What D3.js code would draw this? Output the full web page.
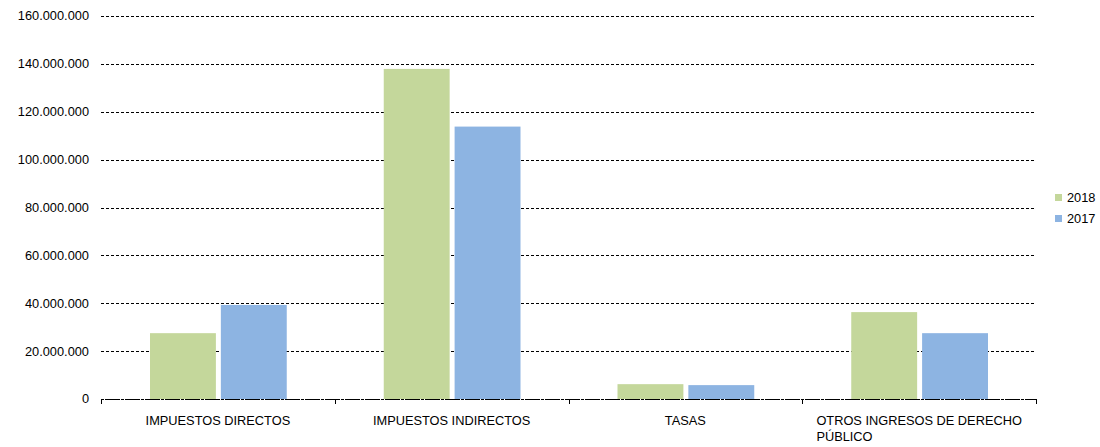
<!DOCTYPE html>
<html>
<head>
<meta charset="utf-8">
<script src="https://cdn.jsdelivr.net/npm/d3@7"></script>
<style>
  body { margin: 0; background: #fff; }
  text { font-family: "Liberation Sans", Arial, sans-serif; fill: #000; }
</style>
</head>
<body>
<svg id="chart" width="1100" height="447"></svg>
<script>
var categories = ["IMPUESTOS DIRECTOS", "IMPUESTOS INDIRECTOS", "TASAS", "OTROS INGRESOS DE DERECHO PÚBLICO"];
var series = ["2018", "2017"];
var values2018 = [27500000, 137900000, 6200000, 36300000];
var values2017 = [39300000, 113800000, 5800000, 27500000];
var yTicks = [0, 20000000, 40000000, 60000000, 80000000, 100000000, 120000000, 140000000, 160000000];
var colors = ["#c4d79b", "#8db4e2"];

var fontSize = "12.8px";

var svg = d3.select("svg#chart"),
  margin = {top: 16, right: 64, bottom: 48, left: 101},
  width = 1036 - margin.left,
  height = 399 - margin.top;

var g = svg.append("g").attr("transform", "translate(" + margin.left + "," + margin.top + ")");

var x = d3.scaleBand().domain(categories).range([0, width]).paddingInner(0).paddingOuter(0);
var x1 = d3.scaleBand().domain(series).range([49, x.bandwidth() - 48]).paddingInner(0.07);
var y = d3.scaleLinear().domain([0, 160000000]).range([height, 0]);

var fmt = function(v) { return d3.format(",")(v).replace(/,/g, "."); };

// grid
g.selectAll(".grid").data(yTicks).enter().append("line")
  .attr("x1", 0).attr("x2", width)
  .attr("y1", function(d) { return Math.round(y(d)) + 0.5; })
  .attr("y2", function(d) { return Math.round(y(d)) + 0.5; })
  .attr("stroke", "#000").attr("stroke-width", 1).attr("stroke-dasharray", "3,2");

// y labels
g.selectAll(".ylab").data(yTicks).enter().append("text")
  .attr("x", -12).attr("y", function(d) { return y(d); })
  .attr("dy", "0.35em").attr("text-anchor", "end")
  .style("font-size", fontSize).text(fmt);

// bars
var data = categories.map(function(c, i) { return {cat: c, vals: [values2018[i], values2017[i]]}; });
var grp = g.selectAll(".cat").data(data).enter().append("g")
  .attr("transform", function(d) { return "translate(" + x(d.cat) + ",0)"; });
grp.selectAll("rect").data(function(d) { return d.vals.map(function(v, j) { return {s: series[j], v: v, j: j}; }); })
  .enter().append("rect")
  .attr("x", function(d) { return x1(d.s); })
  .attr("width", x1.bandwidth())
  .attr("y", function(d) { return y(d.v); })
  .attr("height", function(d) { return height - y(d.v); })
  .attr("fill", function(d) { return colors[d.j]; });

// x axis
var ax = g.append("g").attr("transform", "translate(0," + height + ")");
ax.append("line").attr("x1", 0).attr("x2", width).attr("y1", 0.5).attr("y2", 0.5)
  .attr("stroke", "#000").attr("stroke-dasharray", "3,1");
var tickPos = d3.range(categories.length + 1).map(function(i) { return i * x.step(); });
ax.selectAll(".tk").data(tickPos).enter().append("line")
  .attr("x1", function(d) { return Math.round(d) + 0.5; })
  .attr("x2", function(d) { return Math.round(d) + 0.5; })
  .attr("y1", 0).attr("y2", 5).attr("stroke", "#000");

// category labels (wrapped, left aligned in a centred block)
var maxW = x.bandwidth() - 12;
data.forEach(function(d) {
  var t = ax.append("text").style("font-size", fontSize).attr("y", 26);
  var words = d.cat.split(" "), lines = [], line = [];
  words.forEach(function(w) {
    line.push(w);
    t.text(line.join(" "));
    if (t.node().getComputedTextLength() > maxW && line.length > 1) {
      line.pop();
      lines.push(line.join(" "));
      line = [w];
    }
  });
  lines.push(line.join(" "));
  t.text(lines[0]);
  var w0 = t.node().getComputedTextLength();
  t.text(null);
  var cx = x(d.cat) + x.bandwidth() / 2;
  if (lines.length === 1) {
    t.attr("x", cx).attr("text-anchor", "middle").text(lines[0]);
  } else {
    lines.forEach(function(l, k) {
      t.append("tspan").attr("x", cx - w0 / 2).attr("dy", k === 0 ? 0 : 16).text(l);
    });
  }
});

// legend
var lg = svg.append("g").attr("transform", "translate(1055,194)");
series.forEach(function(s, i) {
  lg.append("rect").attr("x", 0).attr("y", i * 21).attr("width", 7).attr("height", 7).attr("fill", colors[i]);
  lg.append("text").attr("x", 12).attr("y", i * 21 + 4).attr("dy", "0.35em")
    .style("font-size", fontSize).text(s);
});
</script>
</body>
</html>
